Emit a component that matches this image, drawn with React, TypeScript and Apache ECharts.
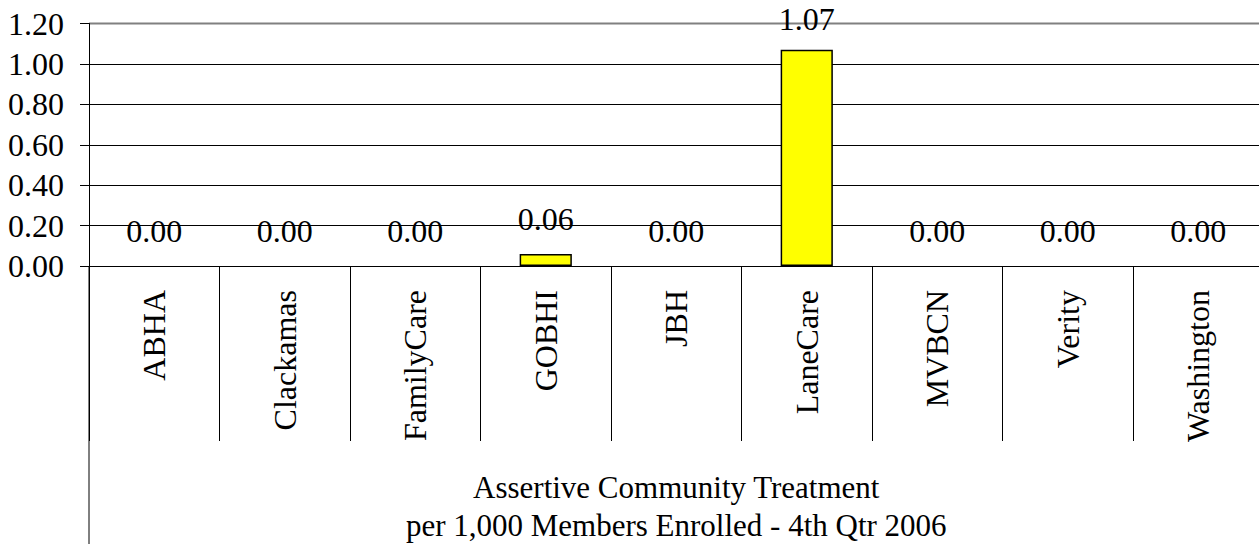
import React, { useEffect, useRef } from "react";
import * as echarts from "echarts";

const categories = ["ABHA", "Clackamas", "FamilyCare", "GOBHI", "JBH", "LaneCare", "MVBCN", "Verity", "Washington"];
const values = [0.0, 0.0, 0.0, 0.06, 0.0, 1.07, 0.0, 0.0, 0.0];
const titleLines = ["Assertive Community Treatment", "per 1,000 Members Enrolled - 4th Qtr 2006"];

const FONT = "'Liberation Serif', 'Times New Roman', serif";

export default function App() {
  const ref = useRef<HTMLDivElement>(null);
  useEffect(() => {
    if (!ref.current) return;
    const chart = echarts.init(ref.current, undefined, { renderer: "svg" });
    const gridLeft = 89;
    const gridTop = 23.5;
    const gridWidth = 1174.5;
    const gridHeight = 242.5;
    chart.setOption({
      animation: false,
      backgroundColor: "#ffffff",
      textStyle: { fontFamily: FONT },
      title: {
        text: titleLines.join("\n"),
        left: gridLeft + gridWidth / 2,
        top: 468,
        padding: 0,
        textAlign: "center",
        textStyle: { fontFamily: FONT, fontSize: 31, fontWeight: "normal", color: "#000", lineHeight: 38 },
      },
      grid: {
        left: gridLeft,
        top: gridTop,
        width: gridWidth,
        height: gridHeight,
        show: false,
      },
      xAxis: {
        type: "category",
        data: categories,
        axisLine: { show: true, lineStyle: { color: "#000", width: 1 } },
        axisTick: { show: true, length: 175, lineStyle: { color: "#000", width: 1 } },
        axisLabel: {
          rotate: 90,
          fontFamily: FONT,
          fontSize: 32,
          color: "#000",
          margin: 24,
          interval: 0,
        },
        splitLine: { show: false },
      },
      yAxis: {
        type: "value",
        min: 0,
        max: 1.2,
        interval: 0.2,
        axisLine: { show: true, lineStyle: { color: "#000", width: 1 } },
        axisTick: { show: true, inside: false, length: 9, lineStyle: { color: "#000" } },
        axisLabel: {
          fontFamily: FONT,
          fontSize: 32,
          color: "#000",
          margin: 25,
          formatter: (v: number) => v.toFixed(2),
        },
        splitLine: {
          show: true,
          lineStyle: { color: ["#000", "#000", "#000", "#000", "#000", "#000", "#808080"], width: 1 },
        },
      },
      graphic: [
        {
          type: "line",
          shape: { x1: gridLeft, y1: gridTop + gridHeight, x2: gridLeft, y2: 544 },
          style: { stroke: "#000", lineWidth: 1 },
        },
        {
          type: "line",
          shape: { x1: gridLeft, y1: gridTop, x2: gridLeft + gridWidth, y2: gridTop },
          style: { stroke: "#808080", lineWidth: 2 },
        },
      ],
      series: [
        {
          type: "bar",
          data: values.map((v) => ({
            value: v,
            itemStyle: { borderWidth: v === 0 ? 0 : 1.5 },
            label: { distance: v > 1 ? 15 : 19 },
          })),
          barWidth: "40%",
          itemStyle: { color: "#ffff00", borderColor: "#000", borderWidth: 1.5 },
          label: {
            show: true,
            position: "top",
            distance: 19,
            fontFamily: FONT,
            fontSize: 32,
            color: "#000",
            formatter: (p: any) => Number(p.value).toFixed(2),
          },
        },
      ],
    });
    return () => chart.dispose();
  }, []);
  return (
    <div style={{ position: "fixed", left: 0, top: 0, width: 1259, height: 544, overflow: "hidden", background: "#fff" }}>
      <div ref={ref} style={{ width: 1270, height: 544 }} />
    </div>
  );
}
